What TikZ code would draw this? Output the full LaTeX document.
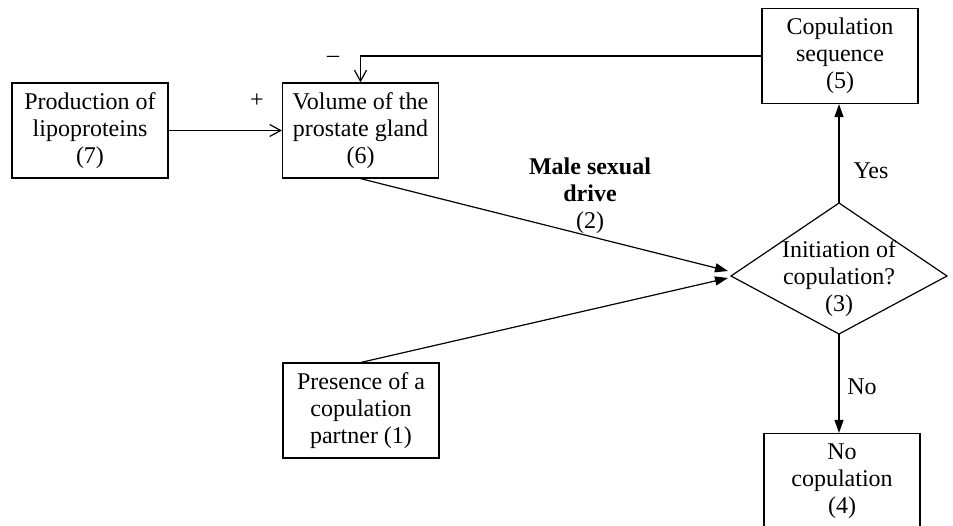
\documentclass[tikz,border=0pt]{standalone}
\usepackage{fontspec}
\setmainfont{Liberation Serif}
\usetikzlibrary{arrows.meta}
\begin{document}
\begin{tikzpicture}[x=0.5pt,y=-0.5pt,
  box/.style={draw,line width=0.6pt,minimum width=78pt,minimum height=47.5pt,inner sep=0pt,align=center,font=\fontsize{12}{13.5}\selectfont},
  lbl/.style={align=center,font=\fontsize{12}{13.5}\selectfont,inner sep=0pt},
  conn/.style={line width=0.6pt},
  fillarrow/.style={-{Triangle[length=6.5pt,width=4.5pt]}},
  openarrow/.style={-{Straight Barb[length=5.5pt,width=6pt]}}]
\useasboundingbox (0,0) rectangle (953,525);
\node[box] (b7) at (90,130.5) {Production of\\lipoproteins\\(7)};
\node[box] (b6) at (360.5,130.5) {Volume of the\\prostate gland\\(6)};
\node[box] (b5) at (840,56) {Copulation\\sequence\\(5)};
\node[box] (b4) at (842,481) {No\\copulation\\(4)};
\node[box] (b1) at (361,410.5) {Presence of a\\copulation\\partner (1)};
\coordinate (dL) at (731,276);
\coordinate (dT) at (839,203);
\coordinate (dR) at (947,276);
\coordinate (dB) at (839,334);
\draw[conn] (dL) -- (dT) -- (dR) -- (dB) -- cycle;
\node[lbl] (d3) at (839,279) {Initiation of\\copulation?\\(3)};
\coordinate (tipA) at (728,271);
\coordinate (tipB) at (728,278);
\draw[conn,openarrow] (b7.east) -- (b6.west);
\draw[conn,openarrow] (b5.west) -| (b6.north);
\draw[conn,fillarrow] (b6.south) -- (tipA);
\draw[conn,fillarrow] (b1.north) -- (tipB);
\draw[conn,fillarrow] (dT) -- (dT |- b5.south);
\draw[conn,fillarrow] (dB) -- (dB |- b4.north);
\node[lbl] (plus) at (257,101) {+};
\node[lbl] (minus) at (333,59) {–};
\node[lbl] (yes) at (871,171) {Yes};
\node[lbl] (no) at (862,387) {No};
\node[lbl] (drive) at (590,196) {\textbf{Male sexual}\\\textbf{drive}\\(2)};
\end{tikzpicture}
\end{document}
